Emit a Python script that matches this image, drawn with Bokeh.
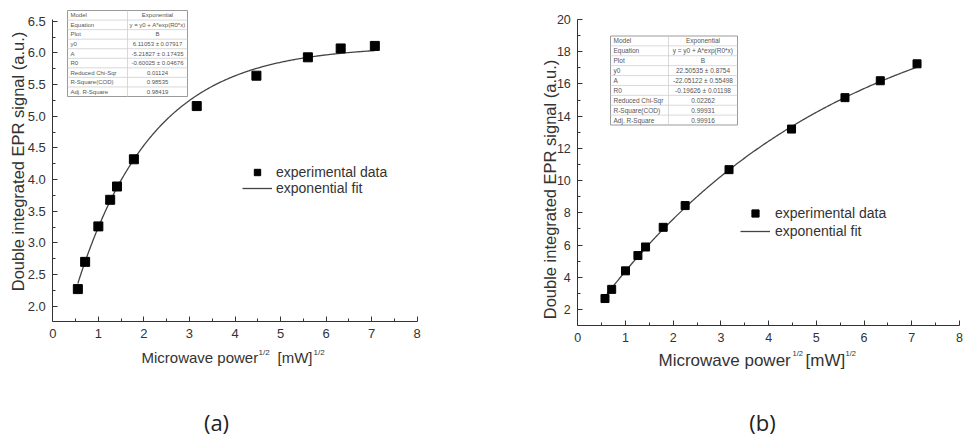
import numpy as np
from bokeh.plotting import figure
from bokeh.layouts import row
from bokeh.models import (Label, Legend, LegendItem, Range1d, FixedTicker,
                          NumeralTickFormatter)
from bokeh.embed import file_html
from bokeh.resources import INLINE
from bokeh.core.properties import value

# ---------------- data ----------------
power_sqrt_a = [0.55, 0.71, 1.0, 1.26, 1.41, 1.78, 3.16, 4.47, 5.6, 6.32, 7.07]
signal_a = [2.27, 2.70, 3.26, 3.68, 3.89, 4.32, 5.16, 5.64, 5.93, 6.07, 6.11]

power_sqrt_b = [0.57, 0.71, 1.0, 1.26, 1.42, 1.79, 2.25, 3.17, 4.48, 5.6, 6.34, 7.11]
signal_b = [2.68, 3.25, 4.40, 5.35, 5.88, 7.10, 8.45, 10.68, 13.20, 15.15, 16.20, 17.25]

fit_a = {"y0": 6.11053, "A": -5.21827, "R0": -0.60025}
fit_b = {"y0": 22.50535, "A": -22.05122, "R0": -0.19626}

table_labels = ["Model", "Equation", "Plot", "y0", "A", "R0",
                "Reduced Chi-Sqr", "R-Square(COD)", "Adj. R-Square"]
table_values_a = ["Exponential", "y = y0 + A*exp(R0*x)", "B",
                  "6.11053 ± 0.07917", "-5.21827 ± 0.17435", "-0.60025 ± 0.04676",
                  "0.01124", "0.98535", "0.98419"]
table_values_b = ["Exponential", "y = y0 + A*exp(R0*x)", "B",
                  "22.50535 ± 0.8754", "-22.05122 ± 0.55498", "-0.19626 ± 0.01198",
                  "0.02262", "0.99931", "0.99916"]

x_ticks = [0, 1, 2, 3, 4, 5, 6, 7, 8]
x_minor = [0.5, 1.5, 2.5, 3.5, 4.5, 5.5, 6.5, 7.5]
y_ticks_a = [2.0, 2.5, 3.0, 3.5, 4.0, 4.5, 5.0, 5.5, 6.0, 6.5]
y_minor_a = [2.25, 2.75, 3.25, 3.75, 4.25, 4.75, 5.25, 5.75, 6.25]
y_ticks_b = [2, 4, 6, 8, 10, 12, 14, 16, 18, 20]
y_minor_b = [3, 5, 7, 9, 11, 13, 15, 17, 19]

legend_labels = ["experimental data", "exponential fit"]
x_label_main = "Microwave power"
x_label_unit = "[mW]"
x_label_exp = "1/2"
y_label = "Double integrated EPR signal (a.u.)"
captions = ["(a)", "(b)"]

FONT = "Liberation Sans"
INK = "#333333"


class PixMap:
    """Pixel <-> data mapping for a figure whose frame fills the canvas."""
    def __init__(self, x_px0, x_val0, x_ppu, y_px0, y_val0, y_ppu):
        self.xp, self.xv, self.xs = x_px0, x_val0, x_ppu
        self.yp, self.yv, self.ys = y_px0, y_val0, y_ppu

    def x(self, px):
        return self.xv + (px - self.xp) / self.xs

    def y(self, py):
        return self.yv + (self.yp - py) / self.ys


def make_panel(W, H, m, axis_bottom_px, axis_top_val, yt, ymin, yfmt, xs, ys, fit,
               tick_fs, marker_size, table_box, table_vals, table_fs, legend_loc,
               legend_gh, legend_standoff, xl, ylab, cap):
    p = figure(width=W, height=H, output_backend="svg", toolbar_location=None,
               title=None,
               x_range=Range1d(m.x(0), m.x(W)), y_range=Range1d(m.y(H), m.y(0)),
               min_border=0)
    p.outline_line_color = None
    p.grid.visible = False
    p.background_fill_color = "white"
    p.border_fill_color = "white"

    y_axis_val = m.y(axis_bottom_px)
    for ax in (p.xaxis[0], p.yaxis[0]):
        ax.axis_line_color = INK
        ax.major_tick_line_color = INK
        ax.minor_tick_line_color = INK
        ax.major_tick_in = 5
        ax.major_tick_out = 0
        ax.minor_tick_in = 3
        ax.minor_tick_out = 0
        ax.major_label_text_font = FONT
        ax.major_label_text_font_size = tick_fs
        ax.major_label_text_color = INK
        ax.major_label_standoff = 7
    xa = p.xaxis[0]
    xa.ticker = FixedTicker(ticks=x_ticks, minor_ticks=x_minor)
    xa.fixed_location = y_axis_val
    xa.bounds = (0, 8)
    ya = p.yaxis[0]
    ya.ticker = FixedTicker(ticks=yt, minor_ticks=ymin)
    ya.fixed_location = 0
    ya.bounds = (y_axis_val, axis_top_val)
    ya.formatter = NumeralTickFormatter(format=yfmt)
    xa.formatter = NumeralTickFormatter(format="0")

    # fit curve (from the fit parameters shown in the table)
    fx = np.linspace(min(xs), max(xs), 300)
    fy = fit["y0"] + fit["A"] * np.exp(fit["R0"] * fx)
    ln = p.line(fx, fy, line_color="#444444", line_width=1.3)
    sc = p.scatter(xs, ys, marker="square", size=marker_size,
                   fill_color="black", line_color="black")

    # stats table
    tl, tr, tt, tb, tdiv = table_box
    n = len(table_labels)
    rh = (tb - tt) / n
    p.quad(left=[m.x(tl)], right=[m.x(tr)], top=[m.y(tt)], bottom=[m.y(tb)],
           fill_color="white", line_color="#9a9a9a", line_width=1)
    p.segment(x0=[m.x(tl)] * (n - 1), x1=[m.x(tr)] * (n - 1),
              y0=[m.y(tt + rh * (i + 1)) for i in range(n - 1)],
              y1=[m.y(tt + rh * (i + 1)) for i in range(n - 1)],
              line_color="#cfcfcf", line_width=0.8)
    p.segment(x0=[m.x(tdiv)], x1=[m.x(tdiv)], y0=[m.y(tt)], y1=[m.y(tb)],
              line_color="#cfcfcf", line_width=0.8)
    rows_y = [m.y(tt + rh * (i + 0.5)) for i in range(n)]
    p.text(x=[m.x(tl + 3)] * n, y=rows_y, text=table_labels,
           text_font=value(FONT), text_font_size=value(table_fs),
           text_color="#555555", text_align="left", text_baseline="middle")
    p.text(x=[m.x((tdiv + tr) / 2)] * n, y=rows_y, text=table_vals,
           text_font=value(FONT), text_font_size=value(table_fs),
           text_color="#555555", text_align="center", text_baseline="middle")

    legend = Legend(items=[LegendItem(label=legend_labels[0], renderers=[sc]),
                           LegendItem(label=legend_labels[1], renderers=[ln])],
                    location=legend_loc, orientation="vertical",
                    border_line_color=None, background_fill_alpha=0,
                    padding=0, margin=0, spacing=0,
                    glyph_width=30, glyph_height=legend_gh, label_height=legend_gh,
                    label_standoff=legend_standoff,
                    label_text_font=FONT, label_text_font_size="14px",
                    label_text_color=INK)
    p.add_layout(legend)

    # x axis label with superscripts
    (mx, mb, mfs), (e1x, eb, efs), (ux,), (e2x,) = xl
    for tx, px, py, fs in ((x_label_main, mx, mb, mfs), (x_label_exp, e1x, eb, efs),
                           (x_label_unit, ux, mb, mfs), (x_label_exp, e2x, eb, efs)):
        p.add_layout(Label(x=m.x(px), y=m.y(py), text=tx, text_font=FONT,
                           text_font_size=fs, text_color=INK,
                           text_align="left", text_baseline="alphabetic"))
    # y axis label
    yx, yy, yfs = ylab
    p.add_layout(Label(x=m.x(yx), y=m.y(yy), text=y_label, text_font=FONT,
                       text_font_size=yfs, text_color=INK, angle=np.pi / 2,
                       text_align="center", text_baseline="middle"))
    # caption
    cx, cy, ctext = cap
    p.add_layout(Label(x=m.x(cx), y=m.y(cy), text=ctext, text_font="Open Sans",
                       text_font_size="22px", text_color="#222222",
                       text_align="center", text_baseline="middle"))
    return p


# panel (a): x 0 at px 52.3 (45.55 px/unit); y 2.0 at px 305.7 (63.33 px/unit)
ma = PixMap(52.3, 0.0, 45.55, 305.7, 2.0, 63.33)
pa = make_panel(W=482, H=437, m=ma, axis_bottom_px=321, axis_top_val=6.53,
                yt=y_ticks_a, ymin=y_minor_a, yfmt="0.0",
                xs=power_sqrt_a, ys=signal_a, fit=fit_a, tick_fs="13px",
                marker_size=9, table_box=(67, 187, 10, 96, 127),
                table_vals=table_values_a, table_fs="6px",
                legend_loc=(242, 437 - 196), legend_gh=16, legend_standoff=4,
                xl=((141, 356.5, "15px"), (258, 351.5, "8px"), (277,), (313,)),
                ylab=(17.5, 161, "16.5px"), cap=(216, 421, captions[0]))

# panel (b) (local coords, figure starts at x=482): x 0 at 95.3 (47.71 px/unit);
# y 2 at 309 (16.11 px/unit)
mb = PixMap(95.3, 0.0, 47.71, 309.0, 2.0, 16.11)
pb = make_panel(W=482, H=437, m=mb, axis_bottom_px=325, axis_top_val=20.0,
                yt=y_ticks_b, ymin=y_minor_b, yfmt="0",
                xs=power_sqrt_b, ys=signal_b, fit=fit_b, tick_fs="12.5px",
                marker_size=8, table_box=(128, 255, 35.5, 124.5, 186),
                table_vals=table_values_b, table_fs="6.5px",
                legend_loc=(258, 437 - 240), legend_gh=18, legend_standoff=5,
                xl=((176, 360, "17px"), (310, 353, "7.5px"), (323,), (363,)),
                ylab=(67, 189, "16.5px"), cap=(280, 421, captions[1]))

layout = row(pa, pb)
open("out.html", "w").write(file_html(layout, INLINE))
